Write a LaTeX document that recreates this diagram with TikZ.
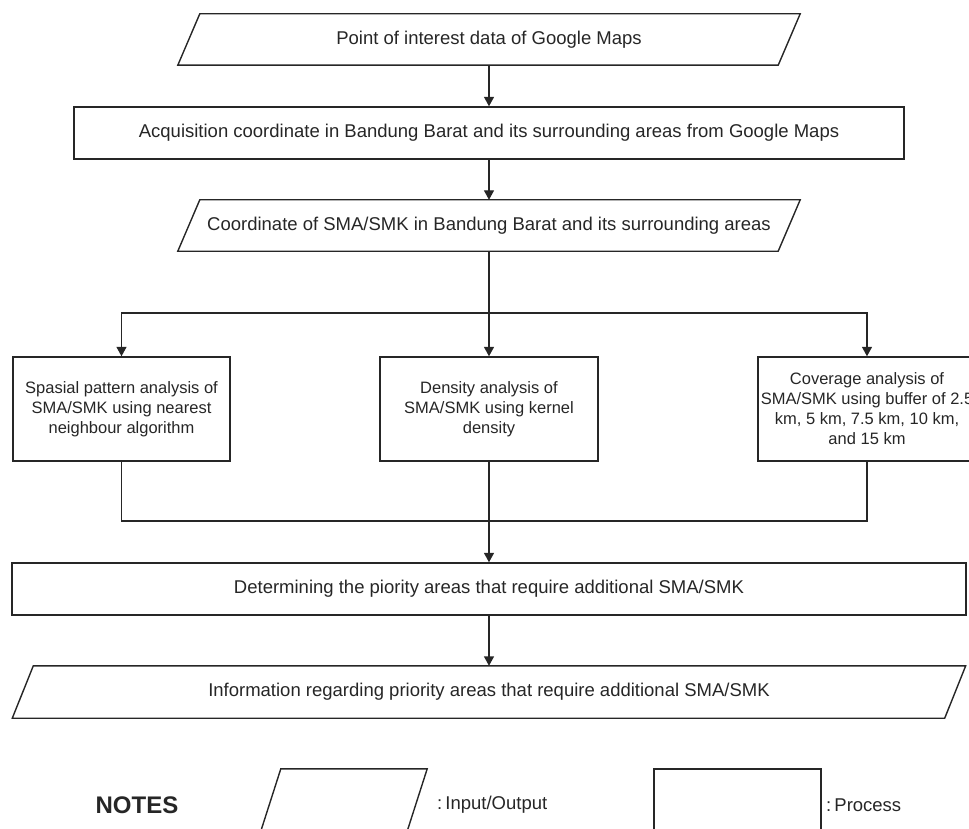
\documentclass[tikz,border=0pt]{standalone}
\usepackage{fontspec}
\setmainfont{Liberation Sans}
\usetikzlibrary{arrows.meta}
\begin{document}
\begin{tikzpicture}[x=1pt,y=-1pt,
  ln/.style={draw=black!85, line width=1.4pt},
  arr/.style={ln, -{Triangle[length=9.5pt,width=10pt]}},
  txt/.style={inner sep=0pt, text=black!85, font=\fontsize{18.5}{22}\selectfont},
  procbox/.style={txt, draw=black!85, line width=1.4pt},
  iobox/.style={txt},
  anbox/.style={procbox, align=center, font=\fontsize{16.5}{20}\selectfont,
    minimum width=218pt, minimum height=104pt}]
\useasboundingbox (0,0) rectangle (969,829);
\clip (0,0) rectangle (969,829);

% main flow
\node[iobox, minimum width=600pt, minimum height=51pt] (p1) at (489,39.5) {Point of interest data of Google Maps};
\draw[ln] ([xshift=11pt]p1.north west) -- ([xshift=11pt]p1.north east) -- ([xshift=-11pt]p1.south east) -- ([xshift=-11pt]p1.south west) -- cycle;

\node[procbox, minimum width=830pt, minimum height=52pt] (b2) at (489,133) {Acquisition coordinate in Bandung Barat and its surrounding areas from Google Maps};

\node[iobox, minimum width=600pt, minimum height=51pt] (p3) at (489,225.5) {Coordinate of SMA/SMK in Bandung Barat and its surrounding areas};
\draw[ln] ([xshift=11pt]p3.north west) -- ([xshift=11pt]p3.north east) -- ([xshift=-11pt]p3.south east) -- ([xshift=-11pt]p3.south west) -- cycle;

\node[anbox, minimum width=217pt] (a1) at (121.5,409) {Spasial pattern analysis of\\SMA/SMK using nearest\\neighbour algorithm};
\node[anbox] (a2) at (489,409) {Density analysis of\\SMA/SMK using kernel\\density};
\node[anbox] (a3) at (867,409) {Coverage analysis of\\SMA/SMK using buffer of 2.5\\km, 5 km, 7.5 km, 10 km,\\and 15 km};

\node[procbox, minimum width=954pt, minimum height=52pt] (b4) at (489,589) {Determining the piority areas that require additional SMA/SMK};

\node[iobox, minimum width=932pt, minimum height=52pt] (p5) at (489,692) {Information regarding priority areas that require additional SMA/SMK};
\draw[ln] ([xshift=10.5pt]p5.north west) -- ([xshift=10.5pt]p5.north east) -- ([xshift=-10.5pt]p5.south east) -- ([xshift=-10.5pt]p5.south west) -- cycle;

\coordinate (split) at (489,313);
\coordinate (merge) at (489,521);

\draw[arr] (p1) -- (b2);
\draw[arr] (b2) -- (p3);
\draw[ln] (p3) -- (split);
\draw[arr] (split) -| (a1);
\draw[arr] (split) -- (a2);
\draw[arr] (split) -| (a3);
\draw[ln] (a1) |- (merge);
\draw[ln] (a3) |- (merge);
\draw[arr] (a2) -- (b4);
\draw[arr] (b4) -- (p5);

% legend
\node[txt, font=\bfseries\fontsize{24}{28}\selectfont] (notes) at (137,805) {NOTES};
\node[iobox, minimum width=146pt, minimum height=76pt] (lio) at (341.75,807) {};
\draw[ln] ([xshift=12.25pt]lio.north west) -- ([xshift=12.25pt]lio.north east) -- ([xshift=-12.25pt]lio.south east) -- ([xshift=-12.25pt]lio.south west) -- cycle;
\node[txt, anchor=west] (liotext) at (437,805) {:\,Input/Output};
\node[procbox, minimum width=167pt, minimum height=76pt] (lpr) at (737.5,807) {};
\node[txt, anchor=west] (lprtext) at (826,805) {:\,Process};
\end{tikzpicture}
\end{document}
